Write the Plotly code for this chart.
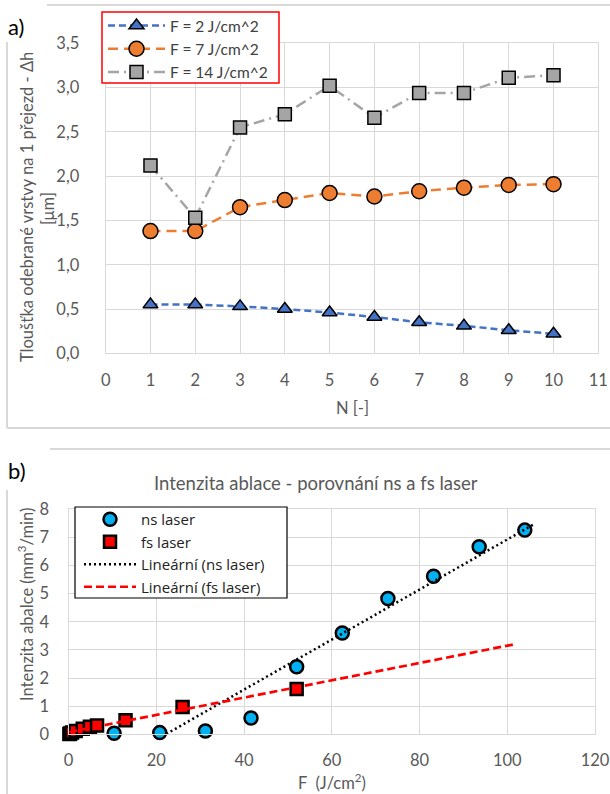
import numpy as np
import plotly.graph_objects as go

# ---------------- data: chart a) ----------------
N = [1, 2, 3, 4, 5, 6, 7, 8, 9, 10]
dh_F2 = [0.55, 0.55, 0.53, 0.50, 0.46, 0.41, 0.35, 0.31, 0.26, 0.22]
dh_F7 = [1.38, 1.38, 1.65, 1.73, 1.81, 1.77, 1.83, 1.87, 1.90, 1.91]
dh_F14 = [2.12, 1.53, 2.55, 2.70, 3.02, 2.66, 2.94, 2.94, 3.11, 3.14]
names_a = ["F = 2 J/cm^2", "F = 7 J/cm^2", "F = 14 J/cm^2"]
x_ticks_a = list(range(0, 12))
y_ticks_a = [0, 0.5, 1.0, 1.5, 2.0, 2.5, 3.0, 3.5]

# ---------------- data: chart b) ----------------
F_ns = [10.4, 20.8, 31.2, 41.6, 52.0, 62.4, 72.8, 83.2, 93.6, 104.0]
I_ns = [0.04, 0.06, 0.12, 0.58, 2.40, 3.60, 4.83, 5.62, 6.67, 7.26]
F_fs = [0.2, 0.41, 0.81, 1.63, 3.25, 4.88, 6.5, 13.0, 26.0, 52.0]
I_fs = [0.01, 0.03, 0.06, 0.12, 0.20, 0.27, 0.31, 0.50, 0.97, 1.61]
names_b = ["ns laser", "fs laser", "Lineární (ns laser)", "Lineární (fs laser)"]
trend_forward = {"ns": 2.0, "fs": 50.0}
x_ticks_b = [0, 20, 40, 60, 80, 100, 120]
y_ticks_b = [0, 1, 2, 3, 4, 5, 6, 7, 8]

W, H = 610, 794
FONT = "Lato"
TXT = "#595959"
GRID = "#d9d9d9"


def px(x):
    return x / W


def py(y):
    return 1 - y / H


fig = go.Figure()

# chart a) traces
styles_a = [
    dict(color="#4472C4", dash="7px,4px", symbol="triangle-up", size=13),
    dict(color="#ED7D31", dash="10px,6px", symbol="circle", size=15),
    dict(color="#A5A5A5", dash="11px,5px,2px,5px", symbol="square", size=13),
]
for yv, nm, st in zip([dh_F2, dh_F7, dh_F14], names_a, styles_a):
    fig.add_trace(go.Scatter(
        x=N, y=yv, name=nm, mode="lines+markers", xaxis="x", yaxis="y",
        legend="legend", cliponaxis=False,
        line=dict(color=st["color"], width=2.5, dash=st["dash"]),
        marker=dict(symbol=st["symbol"], size=st["size"], color=st["color"],
                    line=dict(color="black", width=1.5)),
    ))

# chart b) traces
fig.add_trace(go.Scatter(
    x=F_ns, y=I_ns, name=names_b[0], mode="markers", xaxis="x2", yaxis="y2",
    legend="legend2", cliponaxis=False,
    marker=dict(symbol="circle", size=13, color="#00B0F0",
                line=dict(color="black", width=2.5)),
))
fig.add_trace(go.Scatter(
    x=F_fs, y=I_fs, name=names_b[1], mode="markers", xaxis="x2", yaxis="y2",
    legend="legend2", cliponaxis=False,
    marker=dict(symbol="square", size=12, color="#FF0000",
                line=dict(color="black", width=2.5)),
))

k_ns, q_ns = np.polyfit(F_ns, I_ns, 1)
k_fs, q_fs = np.polyfit(F_fs, I_fs, 1)
xl_ns = np.array([min(F_ns), max(F_ns) + trend_forward["ns"]])
xl_fs = np.array([min(F_fs), max(F_fs) + trend_forward["fs"]])
fig.add_trace(go.Scatter(
    x=xl_ns, y=k_ns * xl_ns + q_ns, name=names_b[2], mode="lines",
    xaxis="x2", yaxis="y2", legend="legend2",
    line=dict(color="black", width=2.5, dash="2px,3px"),
))
fig.add_trace(go.Scatter(
    x=xl_fs, y=k_fs * xl_fs + q_fs, name=names_b[3], mode="lines",
    xaxis="x2", yaxis="y2", legend="legend2",
    line=dict(color="#FF0000", width=2.7, dash="8px,4px"),
))

axis_common = dict(showgrid=True, gridcolor=GRID, gridwidth=1.3, zeroline=False,
                   showline=True, linecolor=GRID, linewidth=1.3, mirror=True,
                   automargin=False, ticks="",
                   tickfont=dict(family=FONT, size=16.5, color=TXT))


def frame(x0, y0, x1, y1, color, width):
    return dict(type="rect", xref="paper", yref="paper", layer="above",
                x0=px(x0), x1=px(x1), y0=py(y1), y1=py(y0),
                fillcolor="white", line=dict(color=color, width=width))


def hline(x0, x1, y):
    return dict(type="line", xref="paper", yref="paper", x0=px(x0), x1=px(x1),
                y0=py(y), y1=py(y), line=dict(color=GRID, width=2))


def vline(x, y0, y1):
    return dict(type="line", xref="paper", yref="paper", x0=px(x), x1=px(x),
                y0=py(y0), y1=py(y1), line=dict(color=GRID, width=2))


fig.update_layout(
    width=W, height=H, margin=dict(l=0, r=0, t=0, b=0, autoexpand=False),
    paper_bgcolor="white", plot_bgcolor="white",
    separators=", ",
    showlegend=True,
    xaxis=dict(domain=[px(105.7), px(598.3)], range=[0, 11], tickvals=x_ticks_a,
               anchor="y", ticklabelstandoff=12, **axis_common),
    yaxis=dict(domain=[py(353.3), py(43.3)], range=[0, 3.5], tickvals=y_ticks_a,
               tickformat=".1f", anchor="x", ticklabelstandoff=22, **axis_common),
    xaxis2=dict(domain=[px(68.5), px(595)], range=[0, 120], tickvals=x_ticks_b,
                anchor="y2", ticklabelstandoff=11, **axis_common),
    yaxis2=dict(domain=[py(734.3), py(509.3)], range=[0, 8], tickvals=y_ticks_b,
                anchor="x2", ticklabelstandoff=15, **axis_common),
    legend=dict(x=px(103), y=py(9), xanchor="left", yanchor="top",
                bgcolor="rgba(0,0,0,0)", borderwidth=0,
                itemwidth=57,
                font=dict(family=FONT, size=15.5, color="#404040"),
                tracegroupgap=0),
    legend2=dict(x=px(79), y=py(503), xanchor="left", yanchor="top",
                 bgcolor="rgba(0,0,0,0)", borderwidth=0,
                 itemwidth=52,
                 font=dict(family="Open Sans", size=15, color="#222222")),
    shapes=[
        hline(47, 612, 5),
        vline(7, 42, 428),
        hline(7, 612, 428),
        hline(50, 612, 449),
        vline(7, 490, 796),
        frame(102, 12, 279, 83, "#FF0000", 1.5),
        frame(75, 507, 287, 598, "black", 1.2),
    ],
    annotations=[
        dict(text="a)", x=px(6), y=py(27), xref="paper", yref="paper",
             xanchor="left", yanchor="middle", showarrow=False,
             font=dict(family=FONT, size=22, color="black")),
        dict(text="b)", x=px(6), y=py(470), xref="paper", yref="paper",
             xanchor="left", yanchor="middle", showarrow=False,
             font=dict(family=FONT, size=22, color="black")),
        dict(text="Tloušťka odebrané vrstvy na 1 přejezd - Δh", x=px(27), y=py(207),
             xref="paper", yref="paper", xanchor="center", yanchor="middle",
             textangle=-90, showarrow=False,
             font=dict(family=FONT, size=16.5, color=TXT)),
        dict(text="[μm]", x=px(48), y=py(209), xref="paper", yref="paper",
             xanchor="center", yanchor="middle", textangle=-90, showarrow=False,
             font=dict(family=FONT, size=16.5, color=TXT)),
        dict(text="N [-]", x=px(352), y=py(408), xref="paper", yref="paper",
             xanchor="center", yanchor="middle", showarrow=False,
             font=dict(family=FONT, size=16.5, color=TXT)),
        dict(text="Intenzita ablace - porovnání ns a fs laser", x=px(316), y=py(483),
             xref="paper", yref="paper", xanchor="center", yanchor="middle",
             showarrow=False, font=dict(family=FONT, size=18.5, color=TXT)),
        dict(text="Intenzita abalce (mm<sup>3</sup>/min)", x=px(26), y=py(605),
             xref="paper", yref="paper", xanchor="center", yanchor="middle",
             textangle=-90, showarrow=False,
             font=dict(family=FONT, size=16.5, color=TXT)),
        dict(text="F  (J/cm<sup>2</sup>)", x=px(332), y=py(782), xref="paper",
             yref="paper", xanchor="center", yanchor="middle", showarrow=False,
             font=dict(family=FONT, size=16.5, color=TXT)),
    ],
)

fig.write_html("out.html")
